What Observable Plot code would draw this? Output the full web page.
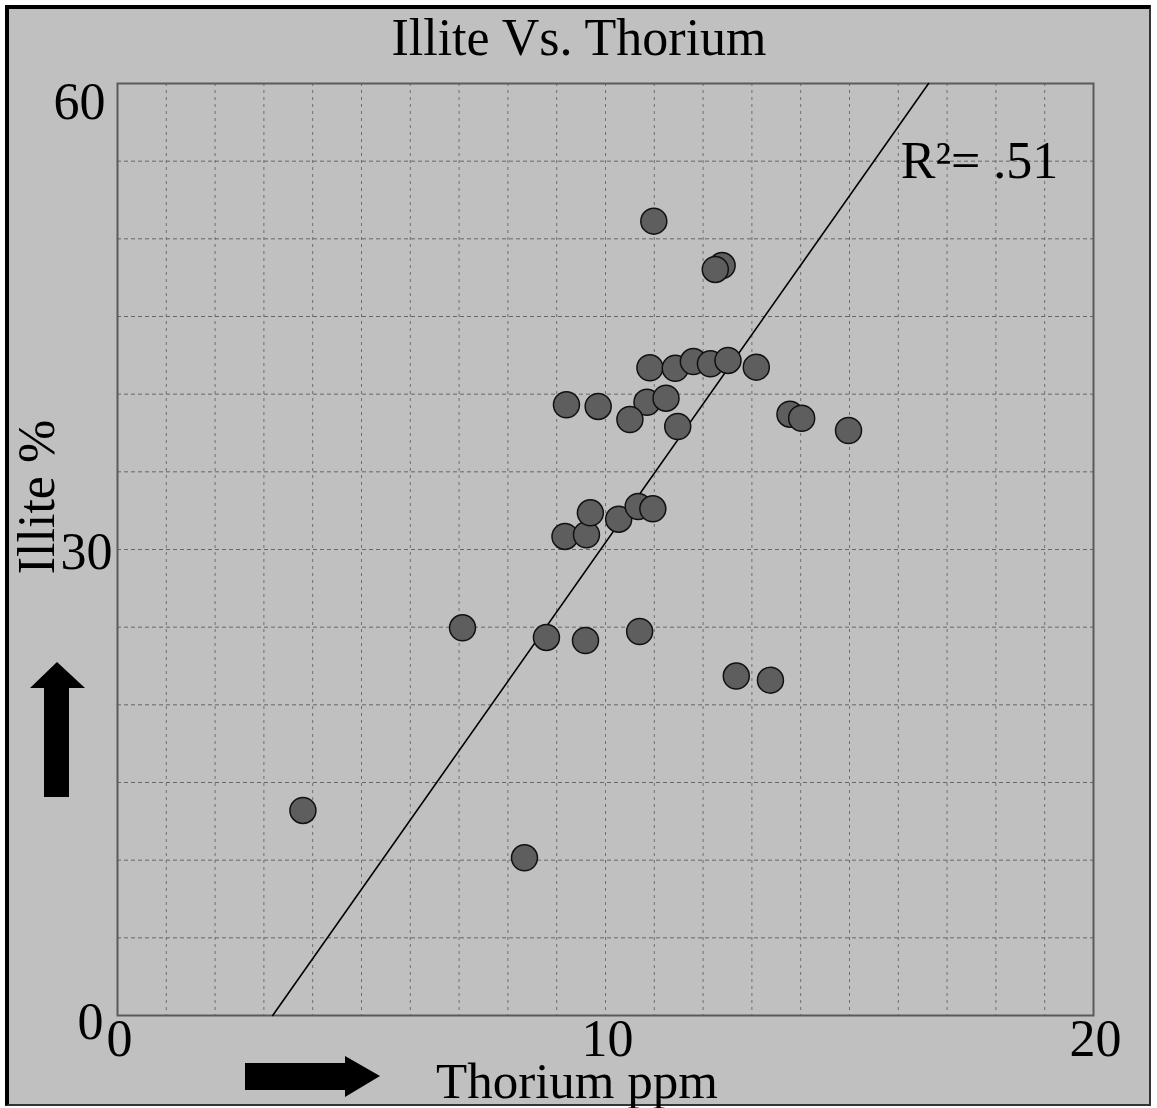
<!DOCTYPE html>
<html>
<head>
<meta charset="utf-8">
<script src="https://cdn.jsdelivr.net/npm/d3@7"></script>
<script src="https://cdn.jsdelivr.net/npm/@observablehq/plot@0.6"></script>
<style>
  html, body { margin: 0; padding: 0; background: #ffffff; }
  #wrap { position: relative; width: 1157px; height: 1108px; overflow: hidden; }
  #bg { position: absolute; left: 5px; top: 5px; width: 1146px; height: 1101px;
        background: #c0c0c0; border-left: 4px solid #000; border-top: 4px solid #000;
        border-right: 2px solid #333; border-bottom: 2px solid #333; box-sizing: border-box; }
  #plot, #deco { position: absolute; left: 0; top: 0; }
  text { font-family: "Liberation Serif", "DejaVu Serif", serif; }
</style>
</head>
<body>
<div id="wrap">
  <div id="bg"></div>
  <div id="plot"></div>
  <svg id="deco" width="1157" height="1108" font-family="Liberation Serif, serif">
    <text x="579" y="55" text-anchor="middle" font-size="52" fill="#000">Illite Vs. Thorium</text>
    <text x="577" y="1098" text-anchor="middle" font-size="51" fill="#000">Thorium ppm</text>
    <text transform="translate(54,497) rotate(-90)" text-anchor="middle" font-size="52" fill="#000">Illite %</text>
    <polygon points="245,1063 345,1063 345,1056 380,1076 345,1097 345,1090 245,1090" fill="#000"/>
    <polygon points="44,797 69,797 69,688 85,688 57,662 30,688 44,688" fill="#000"/>
  </svg>
</div>
<script>
// Data
const thoriumPpm = [3.80, 8.34, 7.07, 8.79, 9.59, 10.70, 12.68, 13.38,
  9.17, 9.61, 9.69, 10.27, 10.67, 10.97,
  9.20, 9.85, 10.85, 10.50, 11.24, 11.48,
  10.91, 11.43, 11.80, 12.15, 12.51, 13.09,
  13.78, 14.02, 14.98, 10.99, 12.39, 12.25];
const illitePct = [13.2, 10.15, 24.96, 24.34, 24.14, 24.72, 21.85, 21.59,
  30.84, 30.95, 32.36, 31.95, 32.77, 32.62,
  39.32, 39.21, 39.48, 38.37, 39.74, 37.92,
  41.70, 41.67, 42.10, 41.96, 42.17, 41.74,
  38.71, 38.45, 37.66, 51.14, 48.28, 48.03];

// Fitted trend line (endpoints)
const fitThorium = [3.18, 16.62];
const fitIllite = [0, 60];

// Annotation
const annotation = [{x: 16.05, y: 55.0, label: "R²= .51"}];

// Ticks and grid
const xTicks = [0, 10, 20];
const yTicks = [0, 30, 60];
const xGrid = d3.range(1, 20);
const yGrid = d3.range(5, 60, 5);

const points = thoriumPpm.map((x, i) => ({x, y: illitePct[i]}));
const fit = fitThorium.map((x, i) => ({x, y: fitIllite[i]}));

const axisFont = {fontSize: 52, fill: "#000"};

const chart = Plot.plot({
  width: 1157,
  height: 1108,
  marginLeft: 117,
  marginRight: 64,
  marginTop: 83,
  marginBottom: 93,
  style: {background: "transparent", fontFamily: "Liberation Serif, serif", overflow: "visible"},
  x: {domain: [0, 20]},
  y: {domain: [0, 60]},
  marks: [
    Plot.ruleX(xGrid, {stroke: "#6e6e6e", strokeWidth: 1, strokeDasharray: "3,4"}),
    Plot.ruleY(yGrid, {stroke: "#666", strokeWidth: 1, strokeDasharray: "4,3"}),
    Plot.frame({stroke: "#5a5a5a", strokeWidth: 2}),
    Plot.line(fit, {x: "x", y: "y", stroke: "#000", strokeWidth: 1.6}),
    Plot.dot(points, {x: "x", y: "y", r: 13, fill: "#5e5e5e", stroke: "#111", strokeWidth: 1.5}),
    Plot.text(annotation, {x: "x", y: "y", text: "label", textAnchor: "start", fontSize: 52, fill: "#000"}),
    Plot.axisX(xTicks, {tickSize: 0, tickPadding: 4, dx: 2, tickFormat: d => String(d), ...axisFont, label: null}),
    Plot.axisY([60], {tickSize: 0, tickPadding: 12, dy: 19, tickFormat: d => String(d), ...axisFont, label: null}),
    Plot.axisY([30], {tickSize: 0, tickPadding: 5, dy: 3, tickFormat: d => String(d), ...axisFont, label: null}),
    Plot.axisY([0], {tickSize: 0, tickPadding: 14, dy: 7, tickFormat: d => String(d), ...axisFont, label: null})
  ]
});
document.getElementById("plot").appendChild(chart);
</script>
</body>
</html>
